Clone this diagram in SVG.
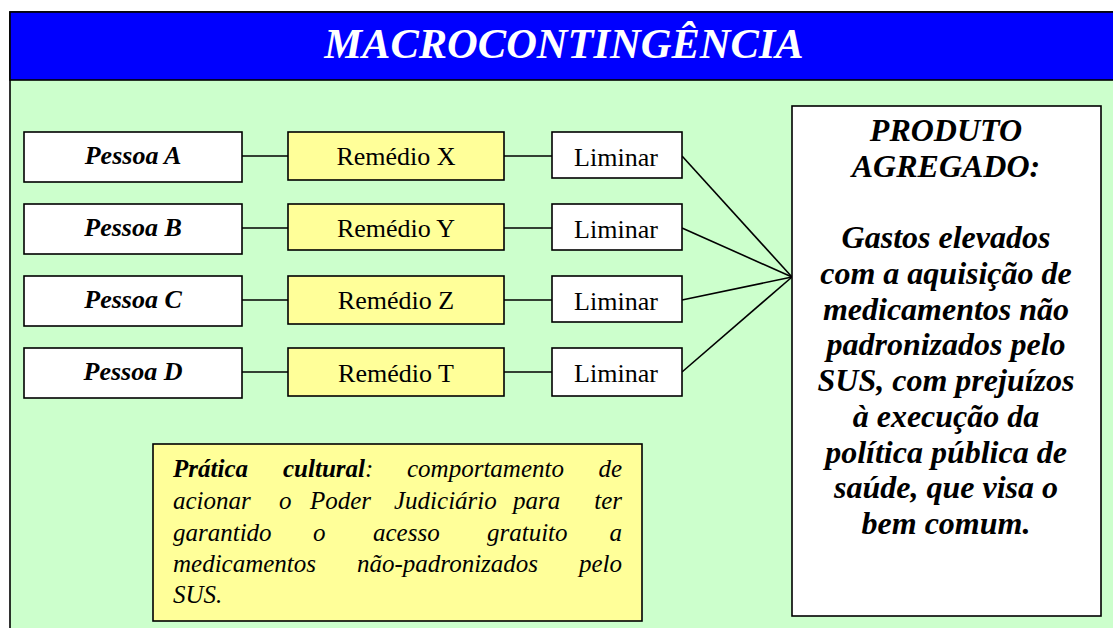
<svg xmlns="http://www.w3.org/2000/svg" width="1113" height="628" viewBox="0 0 1113 628">
<style>
.box{stroke:#000;stroke-width:1.6}
.w{fill:#fff}
.y{fill:#ffff99}
.t{font-family:"Liberation Serif","Times New Roman",serif;fill:#000}
.reg{font-size:26px;text-anchor:middle}
.bi{font-size:26px;font-weight:bold;font-style:italic;text-anchor:middle}
.rb{font-size:32px;font-weight:bold;font-style:italic;text-anchor:middle}
.it{font-size:25px;font-style:italic}
.c{stroke:#000;stroke-width:1.6;fill:none}
</style>
<rect width="1113" height="628" fill="#fff"/>
<g id="frame">
<rect x="10" y="12" width="1115" height="630" fill="#ccffcc" class="box"/>
<rect x="10" y="12" width="1115" height="68" fill="#0000ff" class="box"/>
<text x="564" y="58" class="t" style="font-size:42.5px;font-weight:bold;font-style:italic;text-anchor:middle;fill:#fff">MACROCONTINGÊNCIA</text>
</g>
<g id="connectors">
<line class="c" x1="242" y1="156" x2="288" y2="156"/>
<line class="c" x1="242" y1="228" x2="288" y2="228"/>
<line class="c" x1="242" y1="300" x2="288" y2="300"/>
<line class="c" x1="242" y1="372" x2="288" y2="372"/>
<line class="c" x1="504" y1="156" x2="552" y2="156"/>
<line class="c" x1="504" y1="228" x2="552" y2="228"/>
<line class="c" x1="504" y1="300" x2="552" y2="300"/>
<line class="c" x1="504" y1="372" x2="552" y2="372"/>
<line class="c" x1="682" y1="156" x2="792" y2="277"/>
<line class="c" x1="682" y1="228" x2="792" y2="277"/>
<line class="c" x1="682" y1="300" x2="792" y2="277"/>
<line class="c" x1="682" y1="372" x2="792" y2="277"/>
</g>
<g id="pessoaA"><rect class="box w" x="24" y="132" width="218" height="50"/><text class="t bi" x="133" y="164">Pessoa A</text></g>
<g id="pessoaB"><rect class="box w" x="24" y="204" width="218" height="50"/><text class="t bi" x="133" y="236">Pessoa B</text></g>
<g id="pessoaC"><rect class="box w" x="24" y="276" width="218" height="50"/><text class="t bi" x="133" y="308">Pessoa C</text></g>
<g id="pessoaD"><rect class="box w" x="24" y="348" width="218" height="50"/><text class="t bi" x="133" y="380">Pessoa D</text></g>
<g id="remedioX"><rect class="box y" x="288" y="132" width="216" height="48"/><text class="t reg" x="396" y="165">Remédio X</text></g>
<g id="remedioY"><rect class="box y" x="288" y="204" width="216" height="46"/><text class="t reg" x="396" y="237">Remédio Y</text></g>
<g id="remedioZ"><rect class="box y" x="288" y="276" width="216" height="48"/><text class="t reg" x="396" y="309">Remédio Z</text></g>
<g id="remedioT"><rect class="box y" x="288" y="348" width="216" height="48"/><text class="t reg" x="396" y="382">Remédio T</text></g>
<g id="liminar1"><rect class="box w" x="552" y="132" width="130" height="46"/><text class="t reg" x="616" y="166">Liminar</text></g>
<g id="liminar2"><rect class="box w" x="552" y="204" width="130" height="46"/><text class="t reg" x="616" y="238">Liminar</text></g>
<g id="liminar3"><rect class="box w" x="552" y="276" width="130" height="46"/><text class="t reg" x="616" y="310">Liminar</text></g>
<g id="liminar4"><rect class="box w" x="552" y="348" width="130" height="48"/><text class="t reg" x="616" y="382">Liminar</text></g>
<g id="produto">
<rect class="box w" x="792" y="106" width="309" height="510"/>
<text class="t rb" x="946" y="141">PRODUTO</text>
<text class="t rb" x="946" y="177">AGREGADO:</text>
<text class="t rb" x="946" y="248">Gastos elevados</text>
<text class="t rb" x="946" y="284">com a aquisição de</text>
<text class="t rb" x="946" y="320">medicamentos não</text>
<text class="t rb" x="946" y="355">padronizados pelo</text>
<text class="t rb" x="946" y="391">SUS, com prejuízos</text>
<text class="t rb" x="946" y="427">à execução da</text>
<text class="t rb" x="946" y="463">política pública de</text>
<text class="t rb" x="946" y="498">saúde, que visa o</text>
<text class="t rb" x="946" y="534">bem comum.</text>
</g>
<g id="pratica">
<rect class="box y" x="153" y="444" width="489" height="177"/>
<text class="t it" y="477"><tspan x="173" font-weight="bold">Prática</tspan><tspan x="283" font-weight="bold">cultural</tspan><tspan>:</tspan><tspan x="407">comportamento</tspan></text>
<text class="t it" x="622" y="477" text-anchor="end">de</text>
<text class="t it" y="509"><tspan x="173">acionar</tspan><tspan x="279">o</tspan><tspan x="310">Poder</tspan><tspan x="394">Judiciário</tspan><tspan x="513">para</tspan></text>
<text class="t it" x="622" y="509" text-anchor="end">ter</text>
<text class="t it" y="541"><tspan x="173">garantido</tspan><tspan x="313">o</tspan><tspan x="373">acesso</tspan><tspan x="487">gratuito</tspan></text>
<text class="t it" x="622" y="541" text-anchor="end">a</text>
<text class="t it" y="572"><tspan x="173">medicamentos</tspan><tspan x="357">não-padronizados</tspan></text>
<text class="t it" x="622" y="572" text-anchor="end">pelo</text>
<text class="t it" x="173" y="603">SUS.</text>
</g>
</svg>
